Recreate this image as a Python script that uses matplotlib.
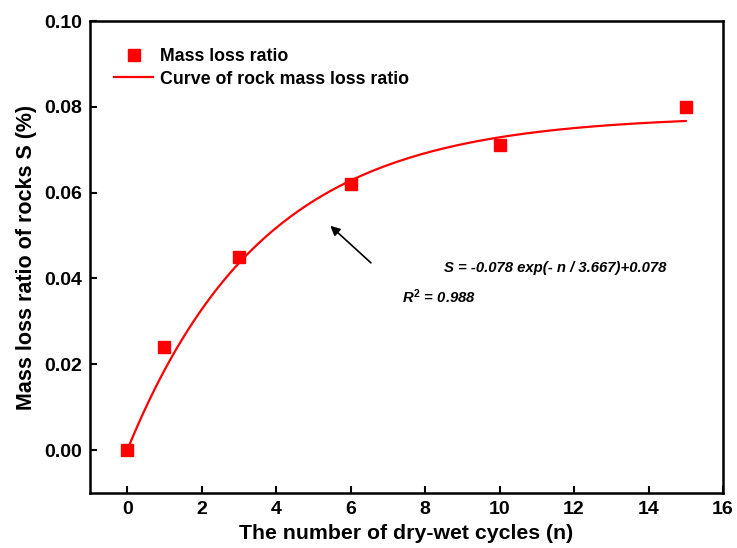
import numpy as np
import matplotlib.pyplot as plt

plt.rcParams['font.family'] = ['Liberation Sans', 'DejaVu Sans']
plt.rcParams['font.weight'] = 'bold'
plt.rcParams['mathtext.fontset'] = 'custom'
plt.rcParams['mathtext.rm'] = 'Liberation Sans:bold'
plt.rcParams['mathtext.it'] = 'Liberation Sans:bold:italic'
plt.rcParams['mathtext.bf'] = 'Liberation Sans:bold'

# measured mass loss ratio
cycles = [0, 1, 3, 6, 10, 15]
loss = [0.0, 0.024, 0.045, 0.062, 0.071, 0.080]

# fitted curve parameters (from the equation on the chart)
A, y0, t = -0.078, 0.078, 3.667

fig = plt.figure(figsize=(7.37, 5.48), dpi=100)
ax = fig.add_axes([90/737, 1 - 493/548, 633/737, 472/548])

n = np.linspace(0, 15, 200)
ax.plot(n, A*np.exp(-n/t) + y0, color='red', lw=1.6,
        label='Curve of rock mass loss ratio')
ax.plot(cycles, loss, 's', color='red', ms=8, ls='none',
        label='Mass loss ratio')

ax.set_xlim(-1, 16)
ax.set_ylim(-0.01, 0.1)
ax.set_xticks(np.arange(0, 17, 2))
ax.set_yticks(np.arange(0, 0.101, 0.02))
ax.yaxis.set_major_formatter(plt.FormatStrFormatter('%.2f'))
ax.tick_params(direction='in', length=5, width=1.5, labelsize=14, pad=6)
for s in ax.spines.values():
    s.set_linewidth(1.8)

ax.set_xlabel('The number of dry-wet cycles (n)', fontsize=15.3, fontweight='bold', labelpad=4)
ax.set_ylabel('Mass loss ratio of rocks S (%)', fontsize=15.5, fontweight='bold', labelpad=5)

h, l = ax.get_legend_handles_labels()
ax.legend(h[::-1], l[::-1], loc='upper left', bbox_to_anchor=(0.038, 0.942),
          frameon=False, fontsize=12.8, handlelength=2.2, handletextpad=0.4,
          labelspacing=0.3, borderaxespad=0.0, borderpad=0.0)

ax.annotate('', xy=(5.4, 0.0527), xytext=(6.6, 0.0432),
            arrowprops=dict(arrowstyle='-|>', color='black', lw=1.2, mutation_scale=14))
ax.text(8.5, 0.0425, 'S = -0.078 exp(- n / 3.667)+0.078', fontsize=10.7,
        fontweight='bold', style='italic', va='center')
ax.text(7.38, 0.0358, '$\\mathit{R}^\\mathit{2}$ = 0.988', fontsize=10.7,
        fontweight='bold', style='italic', va='center')

fig.savefig('out.png', dpi=100)
